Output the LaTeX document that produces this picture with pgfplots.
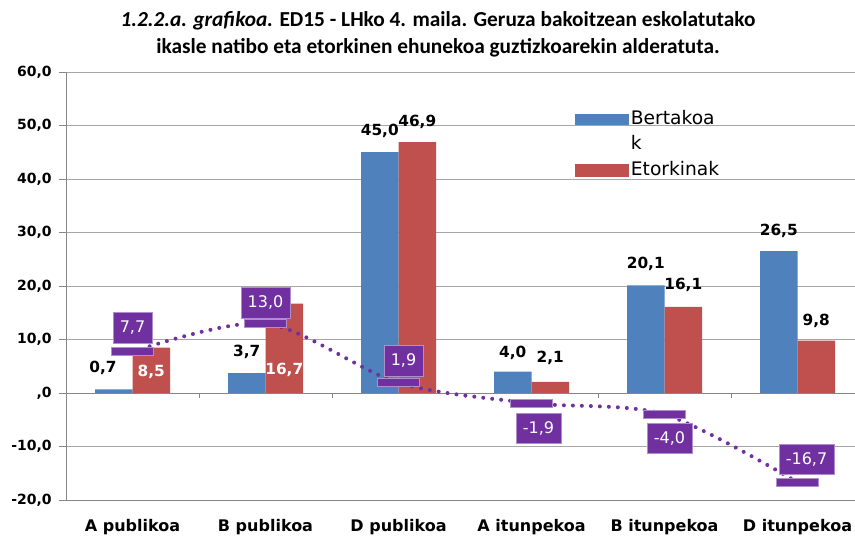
\documentclass[border=0pt]{standalone}
\usepackage{fontspec}
\usepackage{pgfplots}
\pgfplotsset{compat=1.18}
\setmainfont{DejaVu Sans}
\newfontfamily\carlito{Carlito}
\newfontfamily\dv{DejaVu Sans}
\definecolor{cblue}{HTML}{4F81BD}
\definecolor{cred}{HTML}{C0504D}
\definecolor{cpurp}{HTML}{7030A0}
\definecolor{gridc}{HTML}{A6A6A6}
\definecolor{axc}{HTML}{868686}
\pgfdeclareplotmark{hbar}{\pgfpathrectangle{\pgfpoint{-15.75pt}{-3pt}}{\pgfpoint{31.5pt}{6pt}}\pgfusepathqfillstroke}
\begin{document}
\begin{tikzpicture}
\useasboundingbox (0,0) rectangle (641.25pt,403.5pt);
\node[font=\carlito\bfseries\fontsize{16}{18}\selectfont] at (328.5pt,387.75pt) {\textit{1.2.2.a. grafikoa.} ED15 - LHko 4. maila. Geruza bakoitzean eskolatutako};
\node[font=\carlito\bfseries\fontsize{16}{18}\selectfont] at (328.5pt,367.5pt) {ikasle natibo eta etorkinen ehunekoa guztizkoarekin alderatuta.};
\begin{axis}[
  at={(99.375pt,108.75pt)}, anchor=origin,
  x=99.75pt, y=4.0125pt,
  xmin=-0.5, xmax=5.43, ymin=-20, ymax=60,
  axis lines*=left,
  axis line style={axc},
  clip=false,
  xtick={0,...,5},
  xticklabels={A publikoa, B publikoa, D publikoa, A itunpekoa, B itunpekoa, D itunpekoa},
  x tick style={draw=none},
  xticklabel style={font=\dv\bfseries\fontsize{12}{14}\selectfont, yshift=-6pt},
  ytick={-20,-10,...,60},
  yticklabels={{-20,0},{-10,0},{,0},{10,0},{20,0},{30,0},{40,0},{50,0},{60,0}},
  yticklabel style={font=\dv\bfseries\fontsize{10.5}{13}\selectfont, xshift=-2pt},
  y tick style={axc},
  tick align=outside,
  major tick length=5.25pt,
  ymajorgrids,
  grid style={gridc, line width=0.6pt},
  legend style={at={(0.64,0.923)}, anchor=north west, draw=none, fill=none,
    font=\dv\fontsize{14}{16}\selectfont, row sep=2pt,
    nodes={inner sep=1.5pt, text height=11pt, text depth=3pt}},
  legend cell align=left,
]
\addlegendimage{legend image code/.code={\fill[cblue] (0pt,-3.75pt) rectangle (40pt,3.75pt);}}
\addlegendentry{Bertakoa}
\addlegendimage{empty legend}
\addlegendentry{k}
\addlegendimage{legend image code/.code={\fill[cred] (0pt,-4.5pt) rectangle (40pt,4.5pt);}}
\addlegendentry{Etorkinak}

\addplot[ybar, bar width=28.125pt, bar shift=-14.0625pt, fill=cblue, draw=none, forget plot]
  coordinates {(0,0.7) (1,3.7) (2,45.0) (3,4.0) (4,20.1) (5,26.5)};
\addplot[ybar, bar width=28.125pt, bar shift=14.0625pt, fill=cred, draw=none, forget plot]
  coordinates {(0,8.5) (1,16.7) (2,46.9) (3,2.1) (4,16.1) (5,9.8)};

\draw[axc, line width=0.6pt] (axis cs:-0.5,0) -- (axis cs:5.43,0);
\draw[axc, line width=0.6pt] (axis cs:0.5,0) -- ([yshift=-3.75pt]axis cs:0.5,0);
\draw[axc, line width=0.6pt] (axis cs:1.5,0) -- ([yshift=-3.75pt]axis cs:1.5,0);
\draw[axc, line width=0.6pt] (axis cs:2.5,0) -- ([yshift=-3.75pt]axis cs:2.5,0);
\draw[axc, line width=0.6pt] (axis cs:3.5,0) -- ([yshift=-3.75pt]axis cs:3.5,0);
\draw[axc, line width=0.6pt] (axis cs:4.5,0) -- ([yshift=-3.75pt]axis cs:4.5,0);

\addplot[cpurp, smooth, line width=3pt, line cap=round, dash pattern=on 0pt off 6.75pt,
  mark=hbar, mark options={solid, fill=cpurp, draw=cpurp!55!white, line width=0.5pt}, forget plot]
  coordinates {(0,7.7) (1,13.0) (2,1.9) (3,-1.9) (4,-4.0) (5,-16.7)};

% bar value labels
\begin{scope}[every node/.style={font=\dv\bfseries\fontsize{11.5}{13}\selectfont, anchor=center}]
\node[yshift=15.75pt] at (axis cs:-0.222,0.7) {0,7};
\node[white] at (axis cs:0.141,3.9) {8,5};
\node[yshift=15.75pt] at (axis cs:0.859,3.7) {3,7};
\node[white] at (axis cs:1.141,4.3) {16,7};
\node[yshift=15.75pt] at (axis cs:1.859,45.0) {45,0};
\node[yshift=15pt] at (axis cs:2.141,46.9) {46,9};
\node[yshift=14.25pt] at (axis cs:2.859,4.0) {4,0};
\node[yshift=18pt] at (axis cs:3.141,2.1) {2,1};
\node[yshift=16.5pt] at (axis cs:3.859,20.1) {20,1};
\node[yshift=16.5pt] at (axis cs:4.141,16.1) {16,1};
\node[yshift=15pt] at (axis cs:4.859,26.5) {26,5};
\node[yshift=15pt] at (axis cs:5.141,9.8) {9,8};
\end{scope}

% difference labels
\begin{scope}[every node/.style={font=\dv\fontsize{12}{14}\selectfont, text=white, fill=cpurp,
   draw=cpurp!55!white, line width=0.4pt, inner xsep=5pt, minimum height=23pt, anchor=center}]
\node[yshift=18pt] at (axis cs:0,7.7) {7,7};
\node[yshift=15.75pt] at (axis cs:1,13.0) {13,0};
\node[yshift=16.5pt, xshift=3.75pt] at (axis cs:2,1.9) {1,9};
\node[yshift=-18.75pt, xshift=5.25pt] at (axis cs:3,-1.9) {-1,9};
\node[yshift=-18pt, xshift=3.75pt] at (axis cs:4,-4.0) {-4,0};
\node[yshift=17.25pt, xshift=6.75pt] at (axis cs:5,-16.7) {-16,7};
\end{scope}
\end{axis}
\end{tikzpicture}
\end{document}
